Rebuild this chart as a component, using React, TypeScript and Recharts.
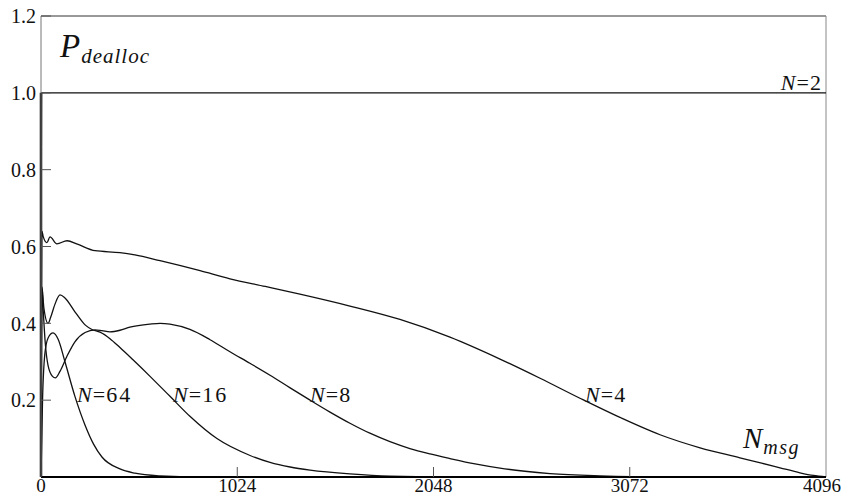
import React from "react";
import { LineChart, Line, XAxis, YAxis, ReferenceLine, ReferenceDot } from "recharts";

// Deallocation probability versus number of messages, for several group sizes N.
const xTicks = [0, 1024, 2048, 3072, 4096];
const yTicks = [0.2, 0.4, 0.6, 0.8, 1.0, 1.2];

const n2 = [
  { x: 0, y: 0 },
  { x: 3, y: 1.0 },
  { x: 4096, y: 1.0 },
];

const n4 = [
  { x: 0, y: 0 },
  { x: 5, y: 0.64 },
  { x: 12, y: 0.625 },
  { x: 31, y: 0.61 },
  { x: 47, y: 0.625 },
  { x: 83, y: 0.607 },
  { x: 136, y: 0.615 },
  { x: 190, y: 0.606 },
  { x: 282, y: 0.589 },
  { x: 412, y: 0.584 },
  { x: 490, y: 0.578 },
  { x: 621, y: 0.563 },
  { x: 830, y: 0.537 },
  { x: 986, y: 0.516 },
  { x: 1170, y: 0.496 },
  { x: 1351, y: 0.476 },
  { x: 1612, y: 0.445 },
  { x: 1873, y: 0.41 },
  { x: 2134, y: 0.364 },
  { x: 2395, y: 0.307 },
  { x: 2604, y: 0.257 },
  { x: 2812, y: 0.205 },
  { x: 3021, y: 0.155 },
  { x: 3230, y: 0.11 },
  { x: 3439, y: 0.076 },
  { x: 3647, y: 0.05 },
  { x: 3760, y: 0.036 },
  { x: 3856, y: 0.024 },
  { x: 3960, y: 0.011 },
  { x: 4030, y: 0.004 },
  { x: 4096, y: 0 },
];

const n8 = [
  { x: 0, y: 0 },
  { x: 5, y: 0.49 },
  { x: 12, y: 0.43 },
  { x: 22, y: 0.35 },
  { x: 37, y: 0.29 },
  { x: 60, y: 0.262 },
  { x: 75, y: 0.258 },
  { x: 99, y: 0.275 },
  { x: 136, y: 0.315 },
  { x: 177, y: 0.352 },
  { x: 230, y: 0.376 },
  { x: 282, y: 0.383 },
  { x: 318, y: 0.381 },
  { x: 360, y: 0.378 },
  { x: 412, y: 0.382 },
  { x: 464, y: 0.39 },
  { x: 569, y: 0.398 },
  { x: 621, y: 0.4 },
  { x: 673, y: 0.398 },
  { x: 777, y: 0.384 },
  { x: 880, y: 0.358 },
  { x: 986, y: 0.326 },
  { x: 1090, y: 0.296 },
  { x: 1195, y: 0.265 },
  { x: 1300, y: 0.232 },
  { x: 1404, y: 0.2 },
  { x: 1508, y: 0.169 },
  { x: 1612, y: 0.14 },
  { x: 1716, y: 0.114 },
  { x: 1821, y: 0.092 },
  { x: 1925, y: 0.074 },
  { x: 2030, y: 0.06 },
  { x: 2134, y: 0.048 },
  { x: 2265, y: 0.034 },
  { x: 2395, y: 0.023 },
  { x: 2525, y: 0.015 },
  { x: 2656, y: 0.009 },
  { x: 2917, y: 0.003 },
  { x: 3200, y: 0 },
  { x: 4096, y: 0 },
];

const n16 = [
  { x: 0, y: 0 },
  { x: 5, y: 0.495 },
  { x: 15, y: 0.44 },
  { x: 37, y: 0.4 },
  { x: 50, y: 0.415 },
  { x: 73, y: 0.45 },
  { x: 99, y: 0.474 },
  { x: 125, y: 0.466 },
  { x: 177, y: 0.43 },
  { x: 230, y: 0.396 },
  { x: 266, y: 0.384 },
  { x: 308, y: 0.377 },
  { x: 360, y: 0.36 },
  { x: 412, y: 0.337 },
  { x: 480, y: 0.305 },
  { x: 569, y: 0.262 },
  { x: 673, y: 0.21 },
  { x: 777, y: 0.158 },
  { x: 918, y: 0.1 },
  { x: 1091, y: 0.056 },
  { x: 1195, y: 0.038 },
  { x: 1300, y: 0.026 },
  { x: 1404, y: 0.018 },
  { x: 1612, y: 0.008 },
  { x: 1821, y: 0.002 },
  { x: 2100, y: 0 },
  { x: 4096, y: 0 },
];

const n64 = [
  { x: 0, y: 0 },
  { x: 8, y: 0.2 },
  { x: 20, y: 0.32 },
  { x: 37, y: 0.362 },
  { x: 63, y: 0.375 },
  { x: 90, y: 0.358 },
  { x: 125, y: 0.3 },
  { x: 177, y: 0.21 },
  { x: 230, y: 0.135 },
  { x: 275, y: 0.085 },
  { x: 318, y: 0.052 },
  { x: 412, y: 0.021 },
  { x: 490, y: 0.01 },
  { x: 620, y: 0.003 },
  { x: 830, y: 0 },
  { x: 4096, y: 0 },
];

const curveLabels = [
  { n: "64", x: 188, y: 0.195 },
  { n: "16", x: 689, y: 0.195 },
  { n: "8", x: 1404, y: 0.195 },
  { n: "4", x: 2839, y: 0.195 },
];

const FONT = "Liberation Serif, DejaVu Serif, serif";
const INK = "#111";

const YTick = (props: any) => {
  const { x, y, payload } = props;
  return (
    <g>
      <line x1={x + 5} x2={x + 15} y1={y} y2={y} stroke="#555" strokeWidth={1} />
      <text x={x} y={y} dy="0.36em" textAnchor="end" fontFamily={FONT} fontSize={20} fill={INK}>
        {payload.value.toFixed(1)}
      </text>
    </g>
  );
};

const XTick = (props: any) => {
  const { x, y, payload } = props;
  const last = payload.value >= 4096;
  return (
    <g>
      {payload.value > 0 && !last && (
        <line x1={x} x2={x} y1={y} y2={y - 10} stroke="#555" strokeWidth={1} />
      )}
      {/* the last label is nudged left so it stays inside the frame edge */}
      <text x={last ? x - 4 : x} y={y + 15} textAnchor="middle" fontFamily={FONT} fontSize={19} fill={INK}>
        {payload.value}
      </text>
    </g>
  );
};

const NLabel = ({ viewBox, n, anchor }: any) => {
  const { x, y } = viewBox;
  return (
    <text x={x} y={y} textAnchor={anchor || "start"} fontFamily={FONT} fontSize={22} fill={INK}>
      <tspan fontStyle="italic">N</tspan>
      <tspan dx={1}>=</tspan>
      <tspan dx={1} letterSpacing={2}>{n}</tspan>
    </text>
  );
};

const PLabel = ({ viewBox }: any) => {
  const { x, y } = viewBox;
  return (
    <text x={x} y={y} fontFamily={FONT} fill={INK} fontStyle="italic">
      <tspan fontSize={33}>P</tspan>
      <tspan fontSize={21} dy={6} dx={1} letterSpacing={1}>dealloc</tspan>
    </text>
  );
};

const NmsgLabel = ({ viewBox }: any) => {
  const { x, y } = viewBox;
  return (
    <text x={x} y={y} fontFamily={FONT} fill={INK} fontStyle="italic">
      <tspan fontSize={29}>N</tspan>
      <tspan fontSize={20} dy={6} dx={1} letterSpacing={1.5}>msg</tspan>
    </text>
  );
};

const series = [n2, n4, n8, n16, n64];

export default function App() {
  return (
    <div style={{ width: 849, height: 498, margin: "-8px 0 0 -8px" }}>
      <LineChart width={849} height={498} margin={{ top: 16, right: 23, left: 0, bottom: 0 }}>
        <XAxis
          type="number"
          dataKey="x"
          domain={[0, 4096]}
          ticks={xTicks}
          height={21}
          tickSize={0}
          tickMargin={0}
          tickLine={false}
          axisLine={{ stroke: "#000", strokeWidth: 2 }}
          tick={<XTick />}
          interval={0}
          allowDataOverflow
        />
        <YAxis
          type="number"
          domain={[0, 1.2]}
          ticks={yTicks}
          width={41}
          tickSize={0}
          tickMargin={5}
          tickLine={false}
          axisLine={{ stroke: "#777", strokeWidth: 1 }}
          tick={<YTick />}
          interval={0}
          allowDataOverflow
        />
        <ReferenceLine y={1.2} stroke="#333" strokeWidth={1} />
        <ReferenceLine x={4096} stroke="#888" strokeWidth={1} />
        {/* the N=2 curve jumps straight to 1 at the origin, drawn as a heavy vertical */}
        <ReferenceLine
          segment={[
            { x: 0, y: 0 },
            { x: 0, y: 1.0 },
          ]}
          stroke="#000"
          strokeWidth={2.5}
        />
        {series.map((d, i) => (
          <Line
            key={i}
            data={d}
            dataKey="y"
            type="monotone"
            stroke={INK}
            strokeWidth={1.3}
            dot={false}
            activeDot={false}
            isAnimationActive={false}
          />
        ))}
        {curveLabels.map((l) => (
          <ReferenceDot
            key={l.n}
            x={l.x}
            y={l.y}
            r={0}
            stroke="none"
            fill="none"
            label={<NLabel n={l.n} />}
          />
        ))}
        <ReferenceDot x={4080} y={1.008} r={0} stroke="none" fill="none" label={<NLabel n="2" anchor="end" />} />
        <ReferenceDot x={99} y={1.094} r={0} stroke="none" fill="none" label={<PLabel />} />
        <ReferenceDot x={3663} y={0.0755} r={0} stroke="none" fill="none" label={<NmsgLabel />} />
      </LineChart>
    </div>
  );
}
